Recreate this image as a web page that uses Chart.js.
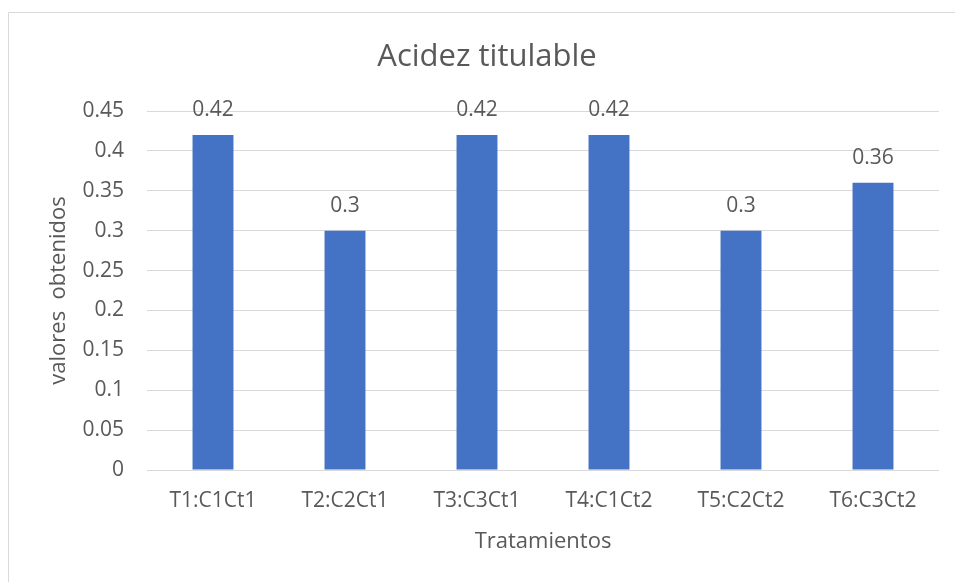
<!DOCTYPE html>
<html>
<head>
<meta charset="utf-8">
<script src="https://cdn.jsdelivr.net/npm/chart.js@4"></script>
<style>
html,body{margin:0;padding:0;background:#fff;}
#wrap{position:relative;width:955px;height:582px;}
canvas{display:block;}
</style>
</head>
<body>
<div id="wrap"><canvas id="c" width="955" height="582"></canvas></div>
<script>
const categories = ["T1:C1Ct1","T2:C2Ct1","T3:C3Ct1","T4:C1Ct2","T5:C2Ct2","T6:C3Ct2"];
const values = [0.42, 0.3, 0.42, 0.42, 0.3, 0.36];
const yTicks = [0, 0.05, 0.1, 0.15, 0.2, 0.25, 0.3, 0.35, 0.4, 0.45];
const chartTitle = "Acidez titulable";
const xTitle = "Tratamientos";
const yTitle = "valores  obtenidos";

const FONT = "'Open Sans', 'Noto Sans', sans-serif";
const TXT = "#595959";

const frame = {
  id: 'frame',
  beforeDraw(chart) {
    const ctx = chart.ctx;
    ctx.save();
    ctx.fillStyle = '#fff';
    ctx.fillRect(0, 0, chart.width, chart.height);
    ctx.strokeStyle = '#d9d9d9';
    ctx.lineWidth = 1;
    ctx.beginPath();
    ctx.moveTo(8.5, chart.height + 2);
    ctx.lineTo(8.5, 12.5);
    ctx.lineTo(chart.width + 2, 12.5);
    ctx.stroke();
    ctx.restore();
  },
  afterDraw(chart) {
    const ctx = chart.ctx;
    ctx.save();
    ctx.fillStyle = TXT;
    ctx.font = "31px " + FONT;
    ctx.textAlign = 'center';
    ctx.textBaseline = 'middle';
    ctx.fillText(chartTitle, 487, 57);
    ctx.restore();
  }
};

const dataLabels = {
  id: 'dataLabels',
  afterDatasetsDraw(chart) {
    const ctx = chart.ctx;
    const meta = chart.getDatasetMeta(0);
    ctx.save();
    ctx.fillStyle = TXT;
    ctx.font = "21px " + FONT;
    ctx.textAlign = 'center';
    ctx.textBaseline = 'middle';
    meta.data.forEach((bar, i) => {
      ctx.fillText(String(values[i]), bar.x, bar.y - 25);
    });
    ctx.restore();
  }
};

new Chart(document.getElementById('c'), {
  type: 'bar',
  data: {
    labels: categories,
    datasets: [{
      data: values,
      backgroundColor: '#4472C4',
      borderWidth: 0,
      barPercentage: 0.31,
      categoryPercentage: 1.0
    }]
  },
  options: {
    responsive: false,
    animation: false,
    devicePixelRatio: 1,
    layout: { padding: { left: 0, right: 16, top: 111, bottom: 0 } },
    plugins: {
      legend: { display: false },
      tooltip: { enabled: false },
      title: { display: false }
    },
    scales: {
      x: {
        grid: { display: false, drawTicks: false },
        border: { display: false },
        ticks: { color: TXT, font: { family: FONT, size: 21 }, padding: 18, maxRotation: 0 },
        title: {
          display: true, text: xTitle, color: TXT,
          font: { family: FONT, size: 22, lineHeight: 1.2 },
          padding: { top: 10, bottom: 27 }
        },
        afterFit(scale) { scale.height = 112; }
      },
      y: {
        min: 0, max: 0.45,
        afterBuildTicks(scale) { scale.ticks = yTicks.map(v => ({ value: v })); },
        grid: { color: '#d9d9d9', lineWidth: 1, drawTicks: false },
        border: { display: false },
        ticks: {
          color: TXT, font: { family: FONT, size: 21 }, padding: 23,
          callback: (v) => String(Number(v.toFixed(2)))
        },
        title: {
          display: true, text: yTitle, color: TXT,
          font: { family: FONT, size: 22, lineHeight: 1.2 },
          padding: { top: 46, bottom: 0 }
        },
        afterFit(scale) { scale.width = 147; }
      }
    }
  },
  plugins: [frame, dataLabels]
});
</script>
</body>
</html>
